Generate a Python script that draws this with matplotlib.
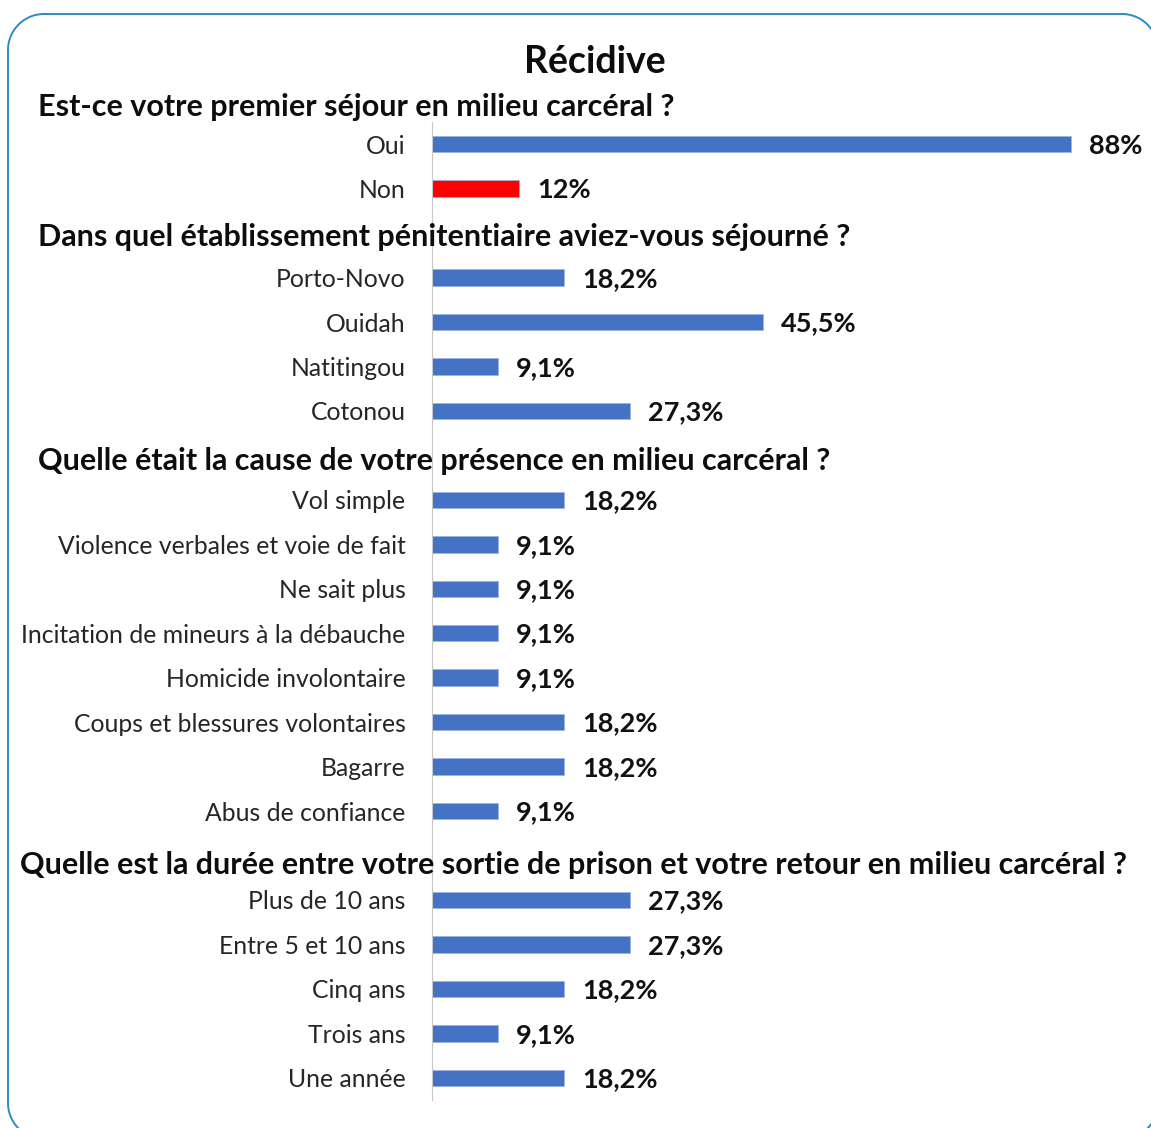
import numpy as np
import matplotlib.pyplot as plt
import matplotlib.transforms as mtransforms
from matplotlib.lines import Line2D

plt.rcParams['font.family'] = ['Lato', 'DejaVu Sans']

title = "Récidive"

questions = [
    "Est-ce votre premier séjour en milieu carcéral ?",
    "Dans quel établissement pénitentiaire aviez-vous séjourné ?",
    "Quelle était la cause de votre présence en milieu carcéral ?",
    "Quelle est la durée entre votre sortie de prison et votre retour en milieu carcéral ?",
]

q1_labels = ["Oui", "Non"]
q1_values = [88, 12]
q1_text = ["88%", "12%"]

q2_labels = ["Porto-Novo", "Ouidah", "Natitingou", "Cotonou"]
q2_values = [18.2, 45.5, 9.1, 27.3]

q3_labels = ["Vol simple", "Violence verbales et voie de fait", "Ne sait plus",
             "Incitation de mineurs à la débauche", "Homicide involontaire",
             "Coups et blessures volontaires", "Bagarre", "Abus de confiance"]
q3_values = [18.2, 9.1, 9.1, 9.1, 9.1, 18.2, 18.2, 9.1]

q4_labels = ["Plus de 10 ans", "Entre 5 et 10 ans", "Cinq ans", "Trois ans", "Une année"]
q4_values = [27.3, 27.3, 18.2, 9.1, 18.2]


def pct(v):
    return f"{v:.1f}%".replace(".", ",")


sections = [
    (questions[0], q1_labels, q1_values, q1_text),
    (questions[1], q2_labels, q2_values, [pct(v) for v in q2_values]),
    (questions[2], q3_labels, q3_values, [pct(v) for v in q3_values]),
    (questions[3], q4_labels, q4_values, [pct(v) for v in q4_values]),
]

BLUE = "#4472C4"
RED = "#FF0000"
W, H = 1151, 1128

fig = plt.figure(figsize=(W / 100, H / 100), dpi=100)


def rounded_rect(x0, y0, x1, y1, r, n=24):
    # polyline for a rounded rectangle, pixel units measured from the top-left
    pts = []
    corners = [(x1 - r, y0 + r, -90, 0), (x1 - r, y1 - r, 0, 90),
               (x0 + r, y1 - r, 90, 180), (x0 + r, y0 + r, 180, 270)]
    for cx, cy, a0, a1 in corners:
        a = np.radians(np.linspace(a0, a1, n))
        pts += list(zip(cx + r * np.cos(a), cy + r * np.sin(a)))
    pts.append(pts[0])
    xs, ys = np.array(pts).T
    return xs, H - ys


fx, fy = rounded_rect(8, 14, 1158, 1139, 36)
fig.add_artist(Line2D(fx, fy, transform=mtransforms.IdentityTransform(),
                      color="#2E8BC0", linewidth=1.4))

ax = fig.add_axes([432 / W, 1 - 1100 / H, (1144 - 432) / W, (1100 - 122) / H])
ax.patch.set_alpha(0)

# one slot per header and per category, top to bottom
head_rows, rows, labels, vals, texts, colors = [], [], [], [], [], []
i = 0
for s, (q, labs, v, t) in enumerate(sections):
    head_rows.append((i, q))
    i += 1
    for k, (lab, val, txt) in enumerate(zip(labs, v, t)):
        rows.append(i)
        labels.append(lab)
        vals.append(val)
        texts.append(txt)
        colors.append(RED if (s == 0 and k == 1) else BLUE)
        i += 1

ax.barh(rows, vals, height=0.37, color=colors, edgecolor="#9DB3E0", linewidth=0.5)
for y, v, t in zip(rows, vals, texts):
    ax.annotate(t, (v, y), xytext=(13, -1), textcoords="offset points",
                ha="left", va="center", fontsize=19.5, fontweight="bold", color="#111111")

ax.set_xlim(0, 98)
ax.set_ylim(22.5, 0.5)
ax.set_yticks(rows)
ax.set_yticklabels(labels, fontsize=17.8, color="#262626")
ax.tick_params(axis="y", length=0, pad=19)
ax.set_xticks([])
for side in ["top", "right", "bottom"]:
    ax.spines[side].set_visible(False)
ax.spines["left"].set_color("#C8C8C8")
ax.spines["left"].set_linestyle((0, (1, 1)))
ax.spines["left"].set_linewidth(0.8)

# question headings across the full width
head_x = [38, 38, 38, 20]
head_nudge = [0.16, 0.08, 0.12, 0.22]
blend = mtransforms.blended_transform_factory(fig.transFigure, ax.transData)
for (y, q), hx, dy in zip(head_rows, head_x, head_nudge):
    ax.text(hx / W, y + dy, q, transform=blend, ha="left", va="center",
            fontsize=22, fontweight="bold", color="#0D0D0D", clip_on=False)

fig.text(595 / W, 1 - 62 / H, title, ha="center", va="center",
         fontsize=27, fontweight="bold", color="#0D0D0D")

fig.savefig("out.png", dpi=100)
